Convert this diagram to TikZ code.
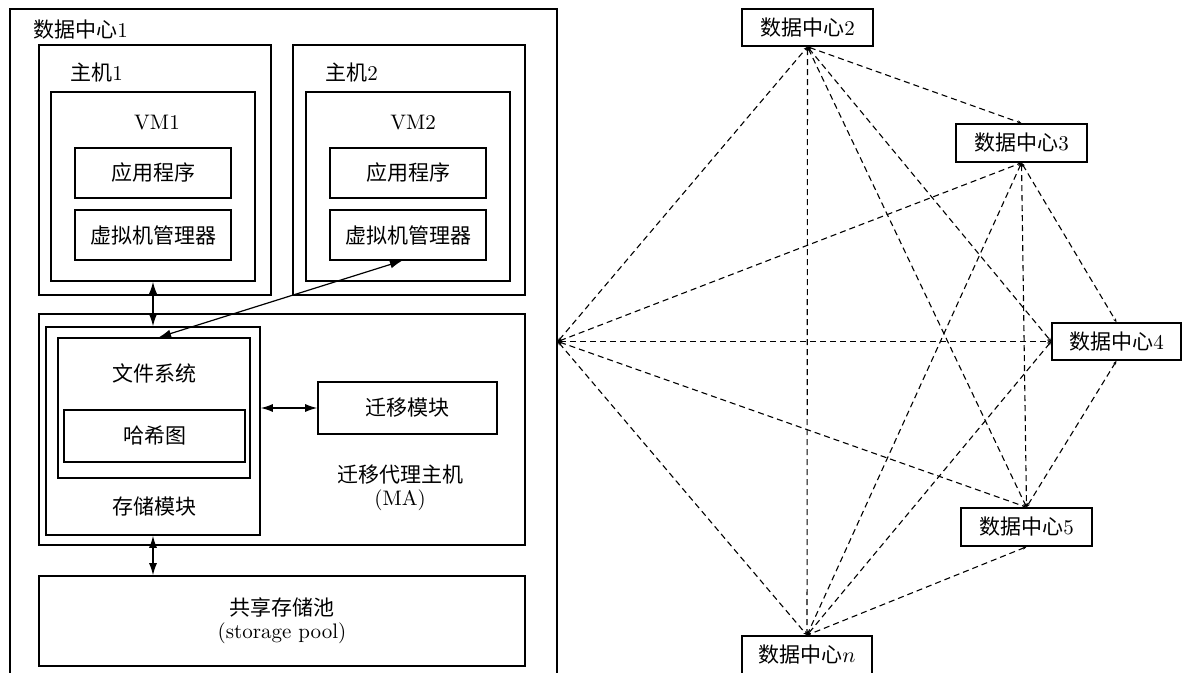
\documentclass[tikz,border=0pt]{standalone}
\usepackage{fontspec}
\newfontfamily\cjk{Noto Sans CJK SC}
\usetikzlibrary{arrows.meta,fit,calc}
\newcommand\zh[1]{{\cjk #1}}
\begin{document}
\begin{tikzpicture}[x=0.5pt,y=-0.5pt,
  box/.style={draw,line width=0.8pt,inner sep=0pt},
  lbl/.style={inner sep=0pt,font=\fontsize{10.5}{12}\selectfont},
  link/.style={line width=0.6pt,{Latex[length=6pt,width=4pt]}-{Latex[length=6pt,width=4pt]}},
  net/.style={line width=0.55pt,dash pattern=on 3pt off 2pt,{Stealth[length=2pt,width=1.6pt]}-{Stealth[length=2pt,width=1.6pt]}}
]
\clip (0,0) rectangle (1182,673);

% ---------- data centre 1 ----------
\node[box,fit={(10,9)(557,674)}] (dc1) {};
\node[lbl,anchor=west] (dc1t) at (33,30) {\zh{数据中心}1};

% host 1
\node[box,fit={(39,45)(271,295)}] (h1) {};
\node[lbl,anchor=west] (h1t) at (70,73) {\zh{主机}1};
\node[box,fit={(51,92)(255,281)}] (vm1) {};
\node[lbl] (vm1t) at (157,123) {VM1};
\node[box,fit={(75,148)(231,198)}] (app1) {};
\node[lbl] (app1t) at (app1) {\zh{应用程序}};
\node[box,fit={(75,210)(231,260)}] (vmm1) {};
\node[lbl] (vmm1t) at (vmm1) {\zh{虚拟机管理器}};

% host 2
\node[box,fit={(293,45)(525,295)}] (h2) {};
\node[lbl,anchor=west] (h2t) at (325,73) {\zh{主机}2};
\node[box,fit={(306,92)(510,281)}] (vm2) {};
\node[lbl] (vm2t) at (413,123) {VM2};
\node[box,fit={(330,148)(486,198)}] (app2) {};
\node[lbl] (app2t) at (app2) {\zh{应用程序}};
\node[box,fit={(330,210)(486,260)}] (vmm2) {};
\node[lbl] (vmm2t) at (vmm2) {\zh{虚拟机管理器}};

% migration agent host
\node[box,fit={(39,314)(525,545)}] (ma) {};
\node[box,fit={(46,327)(260,535)}] (sm) {};
\node[box,fit={(58,338)(250,478)}] (fs) {};
\node[lbl] (fst) at (154,373) {\zh{文件系统}};
\node[box,fit={(64,410)(245,462)}] (hash) {};
\node[lbl] (hasht) at (hash) {\zh{哈希图}};
\node[lbl] (smt) at (154,507) {\zh{存储模块}};
\node[box,fit={(318,382)(497,434)}] (mig) {};
\node[lbl] (migt) at (mig) {\zh{迁移模块}};
\node[lbl] (mat) at (400,475) {\zh{迁移代理主机}};
\node[lbl] (mat2) at (400,500) {(MA)};

% shared storage pool
\node[box,fit={(39,576)(525,666)}] (pool) {};
\node[lbl] (poolt) at (282,607) {\zh{共享存储池}};
\node[lbl] (poolt2) at (282,633) {(storage pool)};

% solid links
\draw[link] (vm1.south) -- (sm.north);
\draw[link] ($(vmm2.south)+(-6,0)$) -- ($(fs.north)+(5,0)$);
\draw[link] (mig.west -| sm.east) -- (mig.west);
\draw[link] (sm.south) -- (sm.south |- pool.north);

% ---------- other data centres ----------
\node[box,fit={(742,9)(873,46)}] (dc2) {};
\node[lbl] (dc2t) at (dc2) {\zh{数据中心}2};
\node[box,fit={(956,124)(1087,162)}] (dc3) {};
\node[lbl] (dc3t) at (dc3) {\zh{数据中心}3};
\node[box,fit={(1052,323)(1181,360)}] (dc4) {};
\node[lbl] (dc4t) at (dc4) {\zh{数据中心}4};
\node[box,fit={(961,508)(1092,546)}] (dc5) {};
\node[lbl] (dc5t) at (dc5) {\zh{数据中心}5};
\node[box,fit={(742,636)(872,676)}] (dcn) {};
\node[lbl] (dcnt) at (807,655) {\zh{数据中心}$n$};

% full mesh between data centres
\draw[net] (dc1.east) -- (dc2.south);
\draw[net] (dc1.east) -- (dc3.south);
\draw[net] (dc1.east) -- (dc4.west);
\draw[net] (dc1.east) -- (dc5.north);
\draw[net] (dc1.east) -- (dcn.north);
\draw[net] (dc2.south) -- (dc3.north);
\draw[net] (dc2.south) -- (dc4.west);
\draw[net] (dc2.south) -- (dc5.north);
\draw[net] (dc2.south) -- (dcn.north);
\draw[net] (dc3.south) -- (dc4.north);
\draw[net] (dc3.south) -- (dc5.north);
\draw[net] (dc3.south) -- (dcn.north);
\draw[net] (dc4.west) -- (dcn.north);
\draw[net] (dc4.south) -- (dc5.north);
\draw[net] (dc5.south) -- (dcn.north);
\end{tikzpicture}
\end{document}
